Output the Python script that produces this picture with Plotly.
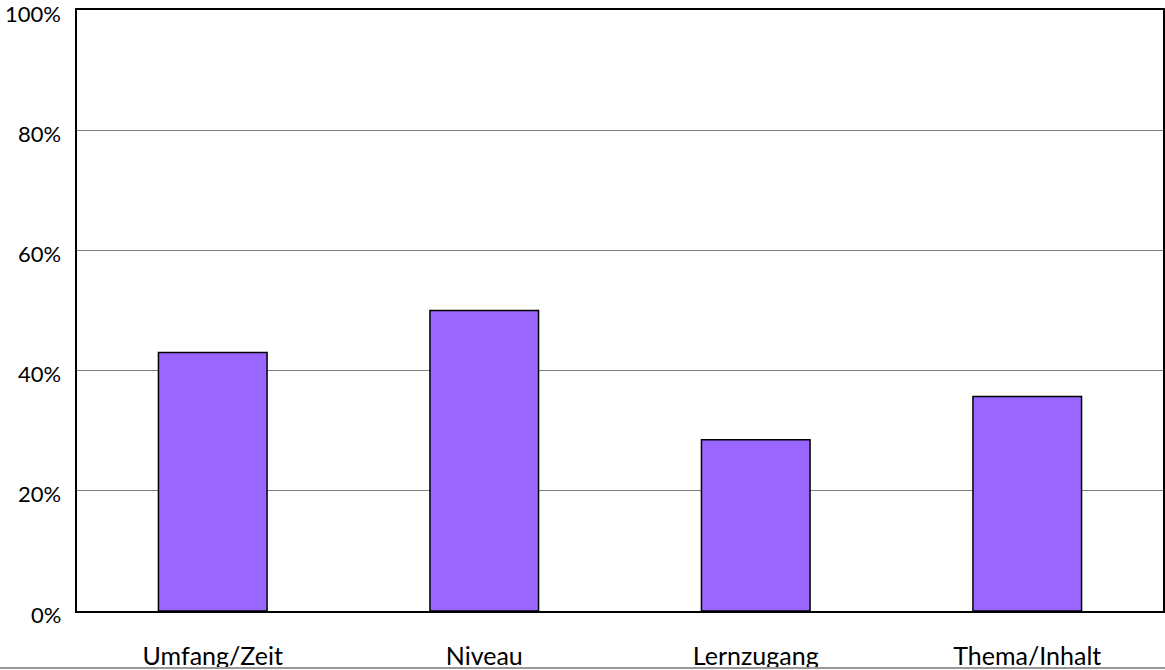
import plotly.graph_objects as go

categories = ["Umfang/Zeit", "Niveau", "Lernzugang", "Thema/Inhalt"]
shares = [0.43, 0.50, 0.285, 0.357]
y_ticks = [0, 0.2, 0.4, 0.6, 0.8, 1.0]
y_labels = ["0%", "20%", "40%", "60%", "80%", "100%"]

fig = go.Figure(
    go.Bar(
        x=categories,
        y=shares,
        marker=dict(color="#9966FF", line=dict(color="black", width=1.5)),
        width=0.4,
    )
)

fig.update_layout(
    width=1165,
    height=670,
    margin=dict(l=77, r=2, t=10, b=59),
    paper_bgcolor="white",
    plot_bgcolor="white",
    showlegend=False,
    font=dict(family="Lato, Open Sans, sans-serif", size=22, color="black"),
)
fig.update_xaxes(
    showline=True, linecolor="black", linewidth=2, mirror=True,
    ticks="", ticklabelstandoff=22, tickfont=dict(size=25),
    automargin=False, ticklabeloverflow="allow",
)
fig.update_yaxes(
    range=[0, 1], tickvals=y_ticks, showticklabels=False,
    showline=True, linecolor="black", linewidth=2, mirror=True,
    showgrid=True, gridcolor="#808080", gridwidth=1,
    zeroline=False, ticks="", automargin=False,
)
# y labels sit a few px below their gridline, as in the original
for val, lab in zip(y_ticks, y_labels):
    fig.add_annotation(
        x=0, xref="paper", y=val, yref="y", text=lab,
        showarrow=False, xanchor="right", yanchor="middle",
        xshift=-14, yshift=-3,
    )
# thin grey rule along the bottom edge of the picture
fig.add_shape(
    type="line", xref="paper", yref="paper",
    x0=-0.075, x1=1.01, y0=-0.0948, y1=-0.0948,
    line=dict(color="#999999", width=2),
)

# drop the default body margin so the figure sits at the window's corner
fig.write_html(
    "out.html",
    config={"displayModeBar": False},
    post_script="document.body.style.margin='0';",
)
